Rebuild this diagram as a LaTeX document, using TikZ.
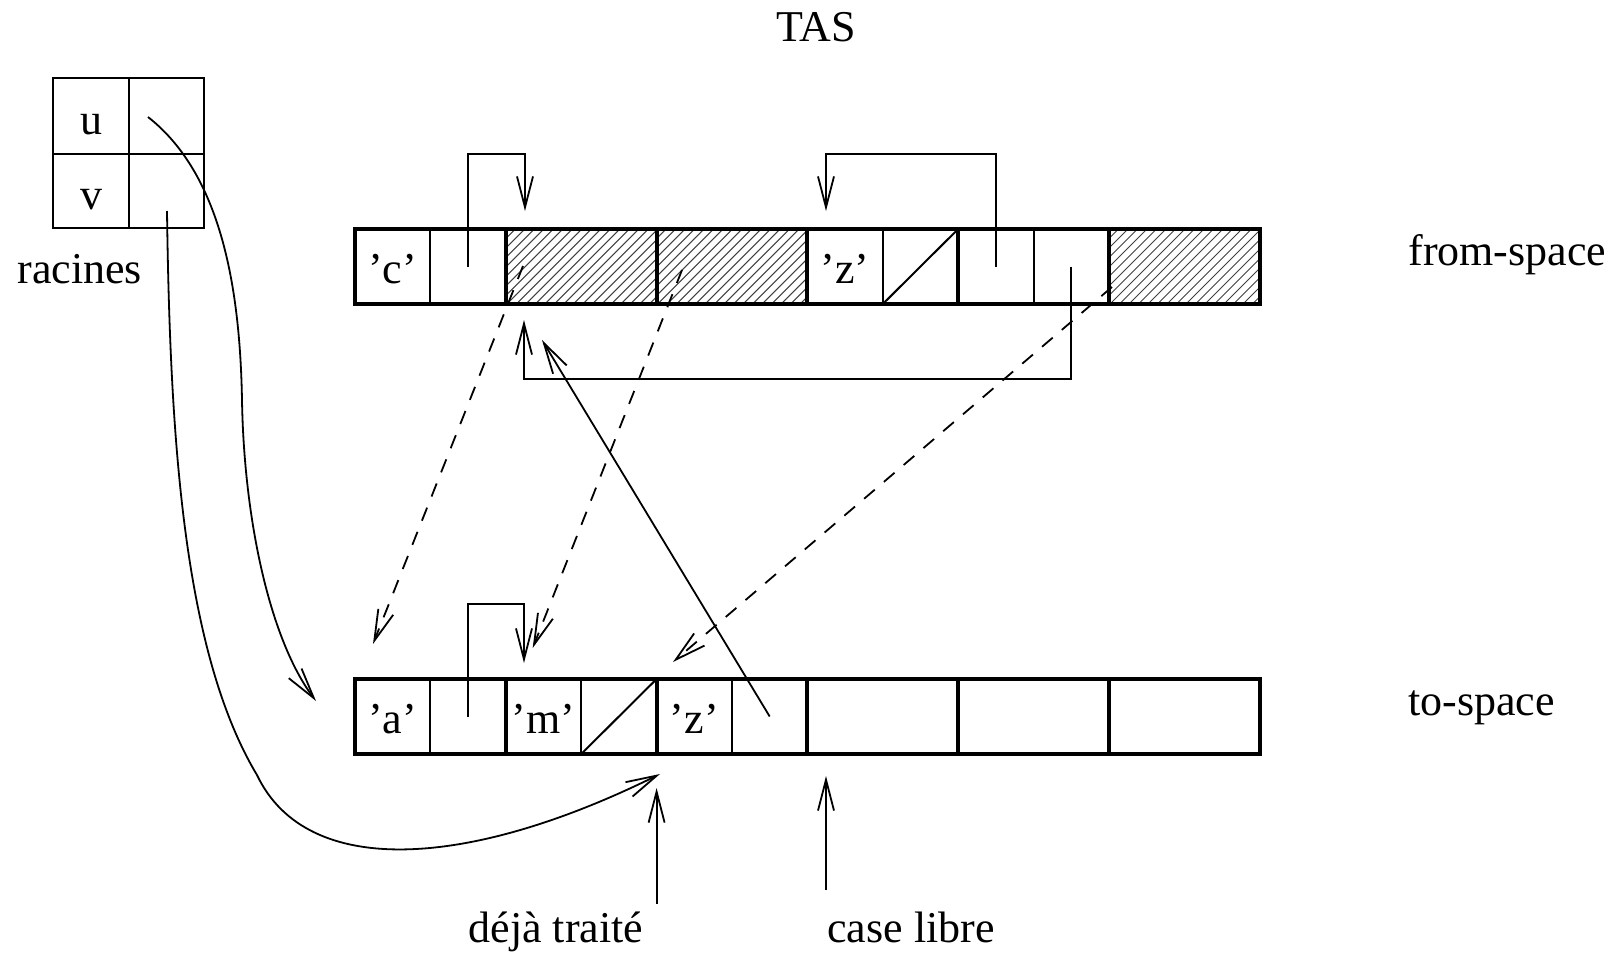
\documentclass[tikz,border=0pt]{standalone}
\usepackage{fontspec}
\setmainfont{Liberation Serif}
\usetikzlibrary{arrows.meta}
\begin{document}
\begin{tikzpicture}[x=0.5pt,y=-0.5pt,
  tip/.style={-{Straight Barb[length=15.5pt,width=8pt]}},
  ptrline/.style={line width=0.9pt},
  cellline/.style={line width=1pt},
  objline/.style={line width=2pt},
  hatchline/.style={line width=0.5pt,black!75},
  dashline/.style={line width=0.9pt,dash pattern=on 7pt off 6pt},
  lbl/.style={anchor=base,inner sep=0pt,font=\fontsize{22}{26}\selectfont},
  lblw/.style={anchor=base west,inner sep=0pt,font=\fontsize{22}{26}\selectfont}]
\useasboundingbox (0,0) rectangle (1618,954);

% title
\node[lbl] (tas) at (816,41) {TAS};

% racines
\draw[cellline] (53,78) rectangle (204,228);
\draw[cellline] (129,78) -- (129,228);
\draw[cellline] (53,154) -- (204,154);
\node[lbl] (ulbl) at (91,134) {u};
\node[lbl] (vlbl) at (91,209) {v};
\node[lblw] (racines) at (17,283) {racines};
\coordinate (uptr) at (148,117);
\coordinate (vptr) at (167,211);

% hatched blocks of from-space
\foreach \a in {505.8,656.6,1109}{
  \begin{scope}
    \clip (\a,229) rectangle ++(150.8,75);
    \foreach \k in {0,...,24}
      \draw[hatchline] ({\a-75+\k*9.5},304) -- ++(75,-75);
  \end{scope}
}

% from-space
\draw[objline] (355,229) rectangle (1259.8,304);
\foreach \x in {505.8,656.6,807.4,958.2,1109}
  \draw[objline] (\x,229) -- (\x,304);
\foreach \x in {430.4,882.8,1033.6}
  \draw[cellline] (\x,229) -- (\x,304);
\draw[cellline] (882.8,304) -- (958.2,229);
\node[lbl] (fc) at (392.7,283.5) {'c'};
\node[lbl] (fz) at (845.1,283.5) {'z'};
\node[lblw] (fromspace) at (1408,265) {from-space};

% to-space
\draw[objline] (355,679) rectangle (1259.8,754);
\foreach \x in {505.8,656.6,807.4,958.2,1109}
  \draw[objline] (\x,679) -- (\x,754);
\foreach \x in {430.4,581.2,732}
  \draw[cellline] (\x,679) -- (\x,754);
\draw[cellline] (581.2,754) -- (656.6,679);
\node[lbl] (ta) at (392.7,733.5) {'a'};
\node[lbl] (tm) at (543.5,733.5) {'m'};
\node[lbl] (tz) at (694.3,733.5) {'z'};
\node[lblw] (tospace) at (1408,715) {to-space};

% pointer origins and targets
\coordinate (fp1) at (468.1,266.5);
\coordinate (fp8) at (995.9,266.5);
\coordinate (fp9) at (1071.3,266.5);
\coordinate (tp1) at (468.1,716.5);
\coordinate (tp5) at (769.7,716.5);
\coordinate (hA) at (525,211);
\coordinate (zA) at (826,211);
\coordinate (hB) at (524,320);
\coordinate (mA) at (524,663);
\coordinate (hC) at (542,340);

\draw[ptrline,tip] (fp1) -- (468.1,154) -- (525,154) -- (hA);
\draw[ptrline,tip] (fp8) -- (995.9,154) -- (826,154) -- (zA);
\draw[ptrline,tip] (fp9) -- (1071.3,379) -- (524,379) -- (hB);
\draw[ptrline,tip] (tp1) -- (468.1,604) -- (524,604) -- (mA);
\draw[ptrline,tip] (tp5) -- (hC);

% forwarding pointers (dashed)
\coordinate (d1s) at (523,266);
\coordinate (d1e) at (373,644);
\coordinate (d2s) at (682,270);
\coordinate (d2e) at (532.7,648);
\coordinate (d3s) at (1112,287);
\coordinate (d3e) at (673,662);
\draw[dashline,tip] (d1s) -- (d1e);
\draw[dashline,tip] (d2s) -- (d2e);
\draw[dashline,tip] (d3s) -- (d3e);

% roots
\coordinate (uend) at (316,701);
\coordinate (vend) at (660,774);
\draw[ptrline,tip] (uptr) .. controls (222,175) and (240,290) .. (242,400)
  .. controls (244,520) and (270,640) .. (uend);
\draw[ptrline,tip] (vptr) .. controls (170,430) and (182,650) .. (257,775)
  .. controls (307,880) and (470,868) .. (vend);

% bottom labels
\node[lbl] (deja) at (556,942) {déjà traité};
\node[lbl] (libre) at (911,942) {case libre};
\coordinate (dejatop) at (656.6,788);
\coordinate (libretop) at (826,776);
\draw[ptrline,tip] (656.6,904) -- (dejatop);
\draw[ptrline,tip] (826,890) -- (libretop);
\end{tikzpicture}
\end{document}
